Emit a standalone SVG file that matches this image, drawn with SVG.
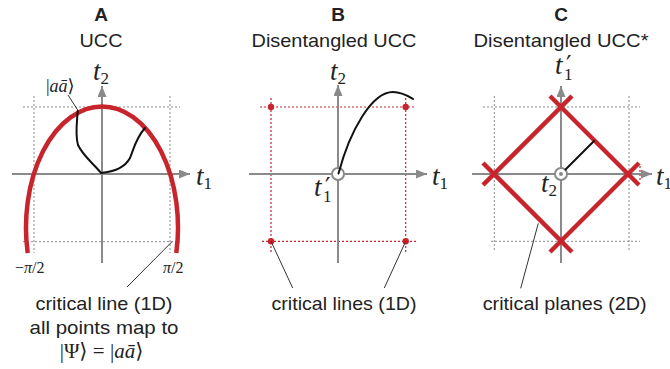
<svg xmlns="http://www.w3.org/2000/svg" width="670" height="369" viewBox="0 0 670 369">
<defs>
<marker id="arr" markerUnits="userSpaceOnUse" markerWidth="12" markerHeight="10" refX="11" refY="4.5" orient="auto">
<path d="M0,0 L11,4.5 L0,9 z" fill="#8a8a8a"/>
</marker>
</defs>
<style>
.ttl{font-family:"Liberation Sans",Arial,sans-serif;font-weight:bold;font-size:19px;fill:#222;text-anchor:middle}
.sub{font-family:"Liberation Sans",Arial,sans-serif;font-size:19px;fill:#222;text-anchor:middle}
.lbl{font-family:"Liberation Sans",Arial,sans-serif;font-size:19px;fill:#222;text-anchor:middle}
.m{font-family:"Liberation Serif","DejaVu Serif",serif;fill:#222}
.mi{font-style:italic}
.t{font-family:"Liberation Serif","DejaVu Serif",serif;font-style:italic;font-size:27px;fill:#222}
.s{font-style:normal;font-size:17px}
.p{font-family:"DejaVu Sans",sans-serif;font-style:normal;font-size:24px}
.axis{stroke:#8a8a8a;stroke-width:2;fill:none}
.gdot{stroke:#8a8a8a;stroke-width:1;stroke-dasharray:2 2;fill:none}
.rdot{stroke:#c8242b;stroke-width:1.2;stroke-dasharray:2 2;fill:none}
.red{stroke:#c8242b;stroke-width:4.5;fill:none}
.blk{stroke:#111;stroke-width:2;fill:none;stroke-linecap:round}
.lead{stroke:#333;stroke-width:1;fill:none}
</style>

<g id="panelA">
<text class="ttl" x="101" y="21">A</text>
<text class="sub" x="101" y="47" textLength="43" lengthAdjust="spacingAndGlyphs">UCC</text>
<line class="gdot" x1="23" y1="107" x2="180" y2="107"/>
<line class="gdot" x1="23" y1="241.7" x2="180" y2="241.7"/>
<line class="gdot" x1="34" y1="96" x2="34" y2="253"/>
<line class="gdot" x1="170" y1="96" x2="170" y2="253"/>
<line class="axis" x1="12" y1="174" x2="190" y2="174" marker-end="url(#arr)"/>
<line class="axis" x1="102" y1="263" x2="102" y2="86" marker-end="url(#arr)"/>
<path class="red" d="M 27.7 253 A 76 121 0 1 1 176.3 253"/>
<path class="blk" d="M 77.7 111 C 77 122, 75 135, 78 145 C 83 156, 95 165, 101 173 C 112 172, 124 169, 130 158 C 134 148, 136 138, 145 128"/>
<text class="t" x="93" y="80">t<tspan class="s" dy="4">2</tspan></text>
<text class="t" x="196" y="185">t<tspan class="s" dy="4">1</tspan></text>
<text class="m" x="46" y="92" font-size="18">|<tspan class="mi">aā</tspan>⟩</text>
<line class="lead" x1="68" y1="95" x2="77.7" y2="110"/>
<text class="m" x="15" y="273" font-size="16">−<tspan class="mi">π</tspan>/2</text>
<text class="m" x="163" y="273" font-size="16"><tspan class="mi">π</tspan>/2</text>
<line class="lead" x1="172" y1="241.7" x2="127" y2="287"/>
<text class="lbl" x="104" y="310" textLength="137" lengthAdjust="spacingAndGlyphs">critical line (1D)</text>
<text class="lbl" x="104" y="334" textLength="149" lengthAdjust="spacingAndGlyphs">all points map to</text>
<text class="m" x="101.5" y="358" font-size="21" text-anchor="middle">|Ψ⟩ = |<tspan class="mi">aā</tspan>⟩</text>
</g>

<g id="panelB">
<text class="ttl" x="338" y="21">B</text>
<text class="sub" x="334" y="47" textLength="165" lengthAdjust="spacingAndGlyphs">Disentangled UCC</text>
<line class="rdot" x1="260" y1="107" x2="415" y2="107"/>
<line class="rdot" x1="262" y1="241.3" x2="417" y2="241.3"/>
<line class="rdot" x1="271" y1="98" x2="271" y2="252"/>
<line class="rdot" x1="405.7" y1="98" x2="405.7" y2="252"/>
<line class="axis" x1="249" y1="174" x2="427" y2="174" marker-end="url(#arr)"/>
<line class="axis" x1="338" y1="263" x2="338" y2="85" marker-end="url(#arr)"/>
<circle cx="271" cy="107" r="3.2" fill="#c8242b"/>
<circle cx="405.7" cy="107" r="3.2" fill="#c8242b"/>
<circle cx="271" cy="241.3" r="3.2" fill="#c8242b"/>
<circle cx="405.7" cy="241.3" r="3.2" fill="#c8242b"/>
<circle cx="338" cy="174" r="6" fill="#fff" stroke="#8a8a8a" stroke-width="2"/>
<path class="blk" d="M 338.5 173.5 C 350 130, 372 92, 393 92 C 402 92, 408 96, 413 99"/>
<text class="t" x="330" y="80">t<tspan class="s" dy="4">2</tspan></text>
<text class="t" x="432" y="185">t<tspan class="s" dy="4">1</tspan></text>
<text class="t" x="314" y="196">t<tspan class="p" x="325" y="195">′</tspan><tspan class="s" x="323" y="202">1</tspan></text>
<line class="lead" x1="271" y1="241.3" x2="292.7" y2="288"/>
<line class="lead" x1="405.7" y1="241.3" x2="384.3" y2="288"/>
<text class="lbl" x="344" y="310" textLength="145" lengthAdjust="spacingAndGlyphs">critical lines (1D)</text>
</g>

<g id="panelC">
<text class="ttl" x="561" y="21">C</text>
<text class="sub" x="561" y="47" textLength="175" lengthAdjust="spacingAndGlyphs">Disentangled UCC*</text>
<line class="gdot" x1="483" y1="107" x2="640" y2="107"/>
<line class="gdot" x1="491" y1="241.3" x2="640" y2="241.3"/>
<line class="gdot" x1="494.3" y1="96" x2="494.3" y2="252"/>
<line class="gdot" x1="629" y1="96" x2="629" y2="252"/>
<line class="rdot" x1="640" y1="166" x2="640" y2="182"/>
<line class="axis" x1="472" y1="174" x2="652" y2="174" marker-end="url(#arr)"/>
<line class="axis" x1="561" y1="263" x2="561" y2="86" marker-end="url(#arr)"/>
<line class="red" x1="483" y1="185" x2="572" y2="96"/>
<line class="red" x1="550" y1="96" x2="639" y2="185"/>
<line class="red" x1="639" y1="163" x2="550" y2="252"/>
<line class="red" x1="572" y1="252" x2="483" y2="163"/>
<circle cx="561" cy="174" r="6" fill="#fff" stroke="#8a8a8a" stroke-width="2"/>
<circle cx="561" cy="174" r="2" fill="#8a8a8a"/>
<line class="blk" x1="565.5" y1="169.5" x2="594" y2="141"/>
<text class="t" x="555" y="74">t<tspan class="p" x="566" y="73">′</tspan><tspan class="s" x="564" y="80">1</tspan></text>
<text class="t" x="541" y="192">t<tspan class="s" dy="4">2</tspan></text>
<text class="t" x="656" y="185">t<tspan class="s" dy="4">1</tspan></text>
<line class="lead" x1="538.3" y1="223.3" x2="520.7" y2="288.3"/>
<text class="lbl" x="564.7" y="310" textLength="164" lengthAdjust="spacingAndGlyphs">critical planes (2D)</text>
</g>
</svg>
